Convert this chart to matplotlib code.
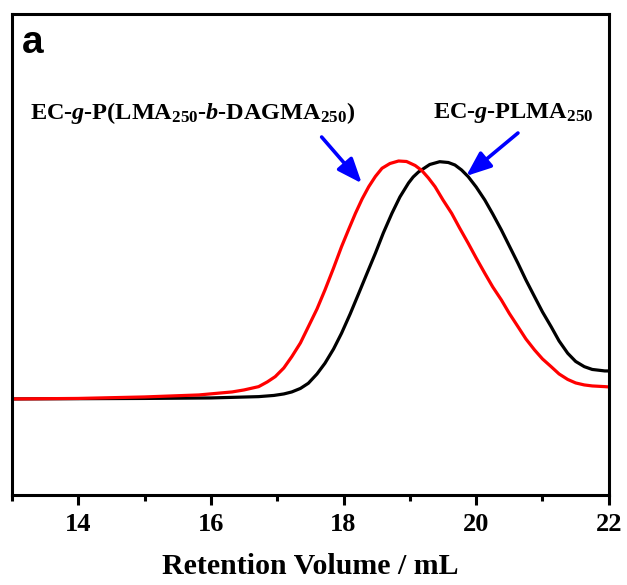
import matplotlib
matplotlib.use('Agg')
import matplotlib.pyplot as plt
from matplotlib.ticker import MultipleLocator

plt.rcParams['font.family'] = 'Liberation Serif'
plt.rcParams['font.weight'] = 'bold'
plt.rcParams['mathtext.fontset'] = 'custom'
plt.rcParams['mathtext.rm'] = 'Liberation Serif:bold'
plt.rcParams['mathtext.it'] = 'Liberation Serif:bold:italic'
plt.rcParams['mathtext.bf'] = 'Liberation Serif:bold'

# GPC traces (retention volume in mL, detector signal in arbitrary units)
vol_block = [13.0, 14.0, 15.0, 15.82, 16.32, 16.5, 16.72, 16.85, 16.97, 17.1,
             17.22, 17.35, 17.47, 17.6, 17.72, 17.85, 17.97, 18.08, 18.18, 18.28,
             18.38, 18.48, 18.58, 18.7, 18.83, 18.95, 19.08, 19.18, 19.28, 19.38,
             19.5, 19.63, 19.75, 19.88, 20.0, 20.13, 20.25, 20.38, 20.5, 20.63,
             20.75, 20.88, 21.0, 21.13, 21.25, 21.38, 21.5, 21.63, 21.75, 21.94,
             22.0]
sig_block = [0, 0.5, 2, 4, 7, 9, 12.3, 17, 22.3, 31,
             42.3, 56, 72.3, 90, 109, 131, 152.3, 170, 185.7, 200,
             212.3, 222.5, 230.7, 235.5, 238, 237.5, 233.5, 228.5, 221, 212.3,
             199, 185.7, 171, 155.7, 141, 125.7, 112, 99, 85.5, 72.3,
             60, 49, 40, 32.3, 25, 19.5, 16, 14, 13, 12.3,
             12]

vol_plma = [13.0, 15.0, 16.0, 16.72, 16.95, 17.1, 17.22, 17.35, 17.47, 17.6,
            17.72, 17.85, 17.97, 18.1, 18.23, 18.35, 18.48, 18.6, 18.73, 18.85,
            18.98, 19.05, 19.13, 19.3, 19.45, 19.58, 19.68, 19.78, 19.88, 20.0,
            20.13, 20.25, 20.38, 20.5, 20.63, 20.75, 20.88, 21.0, 21.13, 21.25,
            21.38, 21.5, 21.63, 21.75, 21.94, 22.0]
sig_plma = [0, 0.5, 1, 2.3, 3.5, 5, 7, 10.5, 15.7, 25,
            35.7, 50, 65.7, 85, 105.7, 125, 145.7, 166, 185.7, 202,
            216, 222, 227, 234.5, 237.3, 236.5, 234, 229, 222.3, 212,
            199, 185, 169, 153, 135.7, 119, 102.3, 87, 72.3, 58,
            45.7, 37.5, 32.3, 29.5, 28, 28]

label_block = r'EC-$\it{g}$-P(LMA$_{250}$-$\it{b}$-DAGMA$_{250}$)'
label_plma = r'EC-$\it{g}$-PLMA$_{250}$'

fig = plt.figure(figsize=(6.27, 5.85), dpi=100)
ax = fig.add_axes([0.019, 0.154, 0.952, 0.822])

ax.plot(vol_plma, sig_plma, color='black', lw=2.3, solid_joinstyle='round')
ax.plot(vol_block, sig_block, color='red', lw=2.3, solid_joinstyle='round')

ax.set_xlim(13, 22)
ax.set_ylim(-96, 385)
ax.set_yticks([])
ax.xaxis.set_major_locator(MultipleLocator(2))
ax.xaxis.set_minor_locator(MultipleLocator(1))
ax.tick_params(axis='x', which='major', direction='out', length=7, width=2.2,
               labelsize=19, pad=6)
ax.tick_params(axis='x', which='minor', direction='out', length=4, width=2.2)
for s in ax.spines.values():
    s.set_linewidth(2.2)

ax.set_xlabel('Retention Volume / mL', fontsize=21.5, fontweight='bold', labelpad=12)

ax.text(0.016, 0.94, 'a', transform=ax.transAxes, fontsize=28,
        fontweight='bold', family='Liberation Sans', va='center')

arrow = dict(arrowstyle='-|>,head_length=1.5,head_width=0.6', color='blue', lw=2.6,
             shrinkA=0, shrinkB=0, mutation_scale=10)
ax.annotate('', xy=(18.275, 215.7), xytext=(17.67, 262), arrowprops=arrow)
ax.annotate('', xy=(19.85, 223), xytext=(20.63, 266), arrowprops=arrow)
ax.text(15.73, 286, label_block, fontsize=17.5, ha='center', va='center')
ax.text(20.56, 286, label_plma, fontsize=17.5, ha='center', va='center')

fig.savefig('out.png', dpi=100)
